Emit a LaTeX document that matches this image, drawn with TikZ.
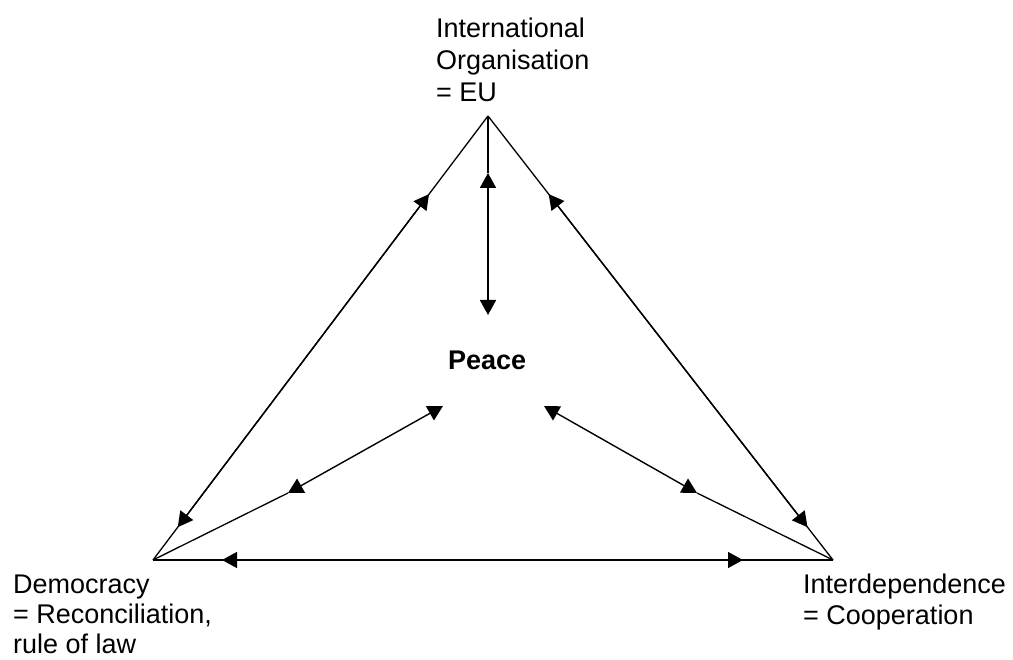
\documentclass[tikz,border=0pt]{standalone}
\usepackage{fontspec}
\setmainfont{Liberation Sans}
\usetikzlibrary{arrows.meta,calc}
\begin{document}
\begin{tikzpicture}[x=1pt,y=-1pt,
  edge/.style={line width=1.3pt},
  biarrow/.style={line width=1.4pt,{Triangle[length=15pt,width=16pt]}-{Triangle[length=15pt,width=16pt]}},
  lbl/.style={font=\fontsize{27}{30}\selectfont, align=left, inner sep=0pt, anchor=north west}]
\useasboundingbox[fill=white] (0,0) rectangle (1013,660);
% vertices
\coordinate (T) at (488,116);
\coordinate (L) at (153,560);
\coordinate (R) at (833,560);
% arrow end points
\coordinate (lt1) at ($(T)!0.176!(L)$);
\coordinate (lt2) at ($(T)!0.926!(L)$);
\coordinate (rt1) at ($(T)!0.176!(R)$);
\coordinate (rt2) at ($(T)!0.926!(R)$);
\coordinate (b1) at (222,560);
\coordinate (b2) at (743,560);
\coordinate (v1) at (488,173);
\coordinate (v2) at (488,315);
\coordinate (li1) at (288,493);
\coordinate (li2) at (443,406);
\coordinate (ri1) at (697,493);
\coordinate (ri2) at (544,406);
% labels
\node[lbl, font=\fontsize{27}{32}\selectfont] (io) at (436,17.6) {International\\Organisation\\= EU};
\node[lbl] (dem) at (13,574.6) {Democracy\\= Reconciliation,\\rule of law};
\node[lbl, font=\fontsize{27}{31}\selectfont] (int) at (803,573.6) {Interdependence\\= Cooperation};
\node[font=\fontsize{27}{31}\selectfont\bfseries, inner sep=0pt, anchor=base west] (peace) at (448,370) {Peace};
% triangle edges
\draw[edge] (T) -- (L);
\draw[edge] (T) -- (R);
\draw[edge] (L) -- (R);
\draw[biarrow] (lt2) -- (lt1);
\draw[biarrow] (rt1) -- (rt2);
\draw[biarrow] (b1) -- (b2);
% spokes to Peace
\draw[edge] (T) -- (v1);
\draw[biarrow, line width=1.8pt] (v1) -- (v2);
\draw[edge] (L) -- (li1);
\draw[biarrow] (li1) -- (li2);
\draw[edge] (R) -- (ri1);
\draw[biarrow] (ri1) -- (ri2);
\end{tikzpicture}
\end{document}
